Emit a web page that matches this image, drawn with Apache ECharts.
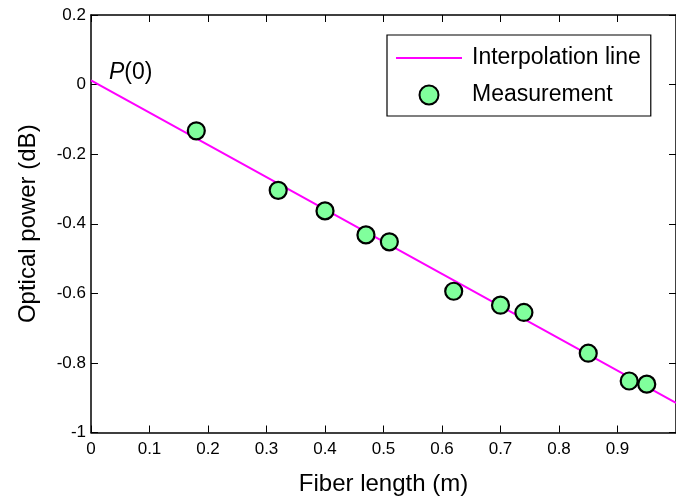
<!DOCTYPE html>
<html>
<head>
<meta charset="utf-8">
<script src="https://cdn.jsdelivr.net/npm/echarts@6/dist/echarts.min.js"></script>
<style>
html,body{margin:0;padding:0;background:#fff;}
#c{width:676px;height:502px;}
</style>
</head>
<body>
<div id="c"></div>
<script>
// Measurements (fiber length in m, optical power in dB)
var measX = [0.18, 0.32, 0.40, 0.47, 0.51, 0.62, 0.70, 0.74, 0.85, 0.92, 0.95];
var measY = [-0.133, -0.304, -0.363, -0.432, -0.452, -0.594, -0.634, -0.655, -0.772, -0.852, -0.861];
// Interpolation line endpoints
var lineX = [0, 1];
var lineY = [0.012, -0.915];
// Axis ticks
var xTicks = [0, 0.1, 0.2, 0.3, 0.4, 0.5, 0.6, 0.7, 0.8, 0.9];
var yTicks = [0.2, 0, -0.2, -0.4, -0.6, -0.8, -1];

var FONT = 'Liberation Sans, Arial, sans-serif';
var chart = echarts.init(document.getElementById('c'));

var measData = measX.map(function (x, i) { return [x, measY[i]]; });
var lineData = lineX.map(function (x, i) { return [x, lineY[i]]; });

var axisLine = { show: true, onZero: false, lineStyle: { color: '#000', width: 1.5 } };
var axisTick = { show: true, inside: true, length: 7, lineStyle: { color: '#000', width: 1 } };

chart.setOption({
  animation: false,
  backgroundColor: '#fff',
  grid: { left: 91, right: -5, top: 15, bottom: 69.5, containLabel: false },
  xAxis: [{
    type: 'value', min: 0, max: 1, interval: 0.1, position: 'bottom',
    name: 'Fiber length (m)', nameLocation: 'middle', nameGap: 40,
    nameTextStyle: { fontFamily: FONT, fontSize: 24, color: '#000' },
    axisLine: axisLine, axisTick: axisTick,
    axisLabel: { fontFamily: FONT, fontSize: 17, color: '#000', margin: 8, showMaxLabel: false,
      formatter: function (v) { var r = Math.round(v * 10) / 10; return xTicks.indexOf(r) >= 0 ? String(r) : ''; } },
    splitLine: { show: false }
  }, {
    type: 'value', min: 0, max: 1, interval: 0.1, position: 'top',
    axisLine: axisLine, axisTick: axisTick, axisLabel: { show: false }, splitLine: { show: false }
  }],
  yAxis: [{
    type: 'value', min: -1, max: 0.2, interval: 0.2, position: 'left',
    name: 'Optical power (dB)', nameLocation: 'middle', nameGap: 51,
    nameTextStyle: { fontFamily: FONT, fontSize: 24, color: '#000' },
    axisLine: axisLine, axisTick: axisTick,
    axisLabel: { fontFamily: FONT, fontSize: 17, color: '#000', margin: 5,
      formatter: function (v) { var r = Math.round(v * 10) / 10; return yTicks.indexOf(r) >= 0 ? String(r) : ''; } },
    splitLine: { show: false }
  }, {
    type: 'value', min: -1, max: 0.2, interval: 0.2, position: 'right',
    axisLine: axisLine, axisTick: axisTick, axisLabel: { show: false }, splitLine: { show: false }
  }],
  legend: {
    orient: 'vertical', left: 387, top: 35,
    padding: [11.5, 10, 9.5, 9],
    itemWidth: 66, itemHeight: 19, itemGap: 14,
    borderColor: '#000', borderWidth: 1.2, backgroundColor: '#fff',
    textStyle: { fontFamily: FONT, fontSize: 23, color: '#000', padding: [0, 0, 0, 5] },
    data: [
      { name: 'Interpolation line', icon: 'path://M0,0L66,0L66,2.2L0,2.2Z', itemStyle: { color: '#ff00ff' } },
      { name: 'Measurement' }
    ]
  },
  series: [{
    name: 'Interpolation line', type: 'line', data: lineData,
    symbol: 'none', lineStyle: { color: '#ff00ff', width: 2 }, itemStyle: { color: '#ff00ff' },
    z: 2,
    markPoint: {
      symbol: 'circle', symbolSize: 0,
      data: [{ coord: [lineX[0], lineY[0]] }],
      label: {
        show: true, position: 'right', distance: 0, offset: [18, -8],
        formatter: '{i|P}{n|(0)}',
        rich: {
          i: { fontFamily: FONT, fontSize: 23, fontStyle: 'italic', color: '#000' },
          n: { fontFamily: FONT, fontSize: 23, color: '#000' }
        }
      }
    }
  }, {
    name: 'Measurement', type: 'scatter', data: measData,
    symbol: 'circle', symbolSize: 17,
    itemStyle: { color: '#80ff9c', borderColor: '#000', borderWidth: 2.2, opacity: 1 },
    z: 3
  }]
});
</script>
</body>
</html>
